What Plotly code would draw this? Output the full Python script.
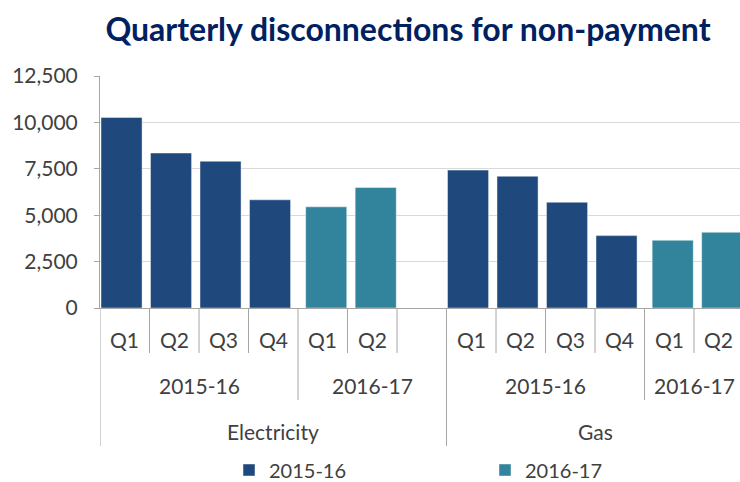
import plotly.graph_objects as go

# ---------------- data ----------------
title_text = "Quarterly disconnections for non-payment"
fuels = ["Electricity", "Gas"]
years = ["2015-16", "2016-17"]

elec_2015_16_q = ["Q1", "Q2", "Q3", "Q4"]
elec_2015_16 = [10270, 8350, 7910, 5830]
elec_2016_17_q = ["Q1", "Q2", ""]
elec_2016_17 = [5450, 6490, None]

gas_2015_16_q = ["Q1", "Q2", "Q3", "Q4"]
gas_2015_16 = [7430, 7100, 5700, 3900]
gas_2016_17_q = ["Q1", "Q2"]
gas_2016_17 = [3650, 4080]

y_ticks = [0, 2500, 5000, 7500, 10000, 12500]

colors = {"2015-16": "#1F497D", "2016-17": "#31849B"}

# ---------------- build slot structure ----------------
groups = [
    ("Electricity", [("2015-16", elec_2015_16_q, elec_2015_16),
                     ("2016-17", elec_2016_17_q, elec_2016_17)]),
    ("Gas", [("2015-16", gas_2015_16_q, gas_2015_16),
             ("2016-17", gas_2016_17_q, gas_2016_17)]),
]

series_x = {y: [] for y in years}
series_v = {y: [] for y in years}
quarter_labels = []   # (x, text)
year_labels = []      # (x_center, text)
fuel_labels = []      # (x_center, text)
q_seps, y_seps, f_seps = [], [], []

idx = 0
for fuel, yrs in groups:
    f_start = idx
    f_seps.append(idx - 0.5)
    for yi, (yr, qs, vals) in enumerate(yrs):
        y_start = idx
        if yi > 0:
            y_seps.append(idx - 0.5)
        for qi, (q, v) in enumerate(zip(qs, vals)):
            if qi > 0:
                q_seps.append(idx - 0.5)
            quarter_labels.append((idx, q))
            if v is not None:
                series_x[yr].append(idx)
                series_v[yr].append(v)
            idx += 1
        year_labels.append(((y_start + idx - 1) / 2, yr))
    fuel_labels.append(((f_start + idx - 1) / 2, fuel))
n_slots = idx

# ---------------- geometry helpers ----------------
W, H = 740, 482
PL, PT, PB = 100, 76, 308          # plot left, top, bottom (px)
slot_px = 49.5
x_range = [-0.5, -0.5 + (W - PL) / slot_px]


def py(px):
    return (PB - px) / (PB - PT)


FONT = "Lato, 'Open Sans', sans-serif"
TXT = "#404040"
AX = "#A6A6A6"

fig = go.Figure()
offsets = {"2015-16": -0.48, "2016-17": -0.345}
for yr in years:
    fig.add_trace(go.Bar(
        x=series_x[yr], y=series_v[yr], name=yr,
        width=0.83, offset=offsets[yr],
        marker=dict(color=colors[yr], line=dict(color="rgba(255,255,255,0.45)", width=1)),
    ))

annotations = []
for x, t in quarter_labels:
    if t:
        annotations.append(dict(x=x, y=py(339), xref="x", yref="paper", text=t,
                                showarrow=False, xanchor="center", yanchor="middle",
                                font=dict(size=21, color=TXT, family=FONT)))
for x, t in year_labels:
    annotations.append(dict(x=x, y=py(385), xref="x", yref="paper", text=t,
                            showarrow=False, xanchor="center", yanchor="middle",
                            font=dict(size=21, color=TXT, family=FONT)))
for x, t in fuel_labels:
    annotations.append(dict(x=x, y=py(432), xref="x", yref="paper", text=t,
                            showarrow=False, xanchor="center", yanchor="middle",
                            font=dict(size=21, color=TXT, family=FONT)))

shapes = []
for xs, bottom in ((q_seps, 353), (y_seps, 400), (f_seps, 446)):
    for x in xs:
        if x_range[0] <= x <= x_range[1]:
            shapes.append(dict(type="line", xref="x", yref="paper", x0=x, x1=x,
                               y0=0, y1=py(bottom), line=dict(color=AX, width=1)))

fig.update_layout(
    width=W, height=H,
    margin=dict(l=PL, r=0, t=PT, b=H - PB, pad=0, autoexpand=False),
    paper_bgcolor="white", plot_bgcolor="white",
    barmode="overlay",
    font=dict(family=FONT, size=21, color=TXT),
    title=dict(text="<b>" + title_text + "</b>", x=408 / W, xanchor="center",
               y=1 - 30 / H, yanchor="middle", xref="container", yref="container",
               font=dict(size=32, color="#002060", family=FONT)),
    xaxis=dict(range=x_range, showgrid=False, zeroline=False, showticklabels=False,
               showline=True, linecolor=AX, linewidth=1, ticks="", automargin=False),
    yaxis=dict(range=[0, 12500], tickvals=y_ticks, tickformat=",", showgrid=True,
               gridcolor="#D9D9D9", gridwidth=1, zeroline=False, showline=True,
               linecolor=AX, linewidth=1, ticks="outside", ticklen=5, tickcolor=AX,
               ticklabelstandoff=12, automargin=False,
               tickfont=dict(size=21, color=TXT, family=FONT)),
    legend=dict(orientation="h", x=(229 - PL) / (W - PL), xanchor="left",
                y=py(470), yanchor="middle", entrywidth=211, entrywidthmode="pixels",
                font=dict(size=20, color=TXT, family=FONT), bgcolor="rgba(0,0,0,0)"),
    annotations=annotations,
    shapes=shapes,
)

fig.write_html("out.html", config={"displayModeBar": False},
               post_script="document.body.style.margin='0';document.body.style.overflow='hidden';")
